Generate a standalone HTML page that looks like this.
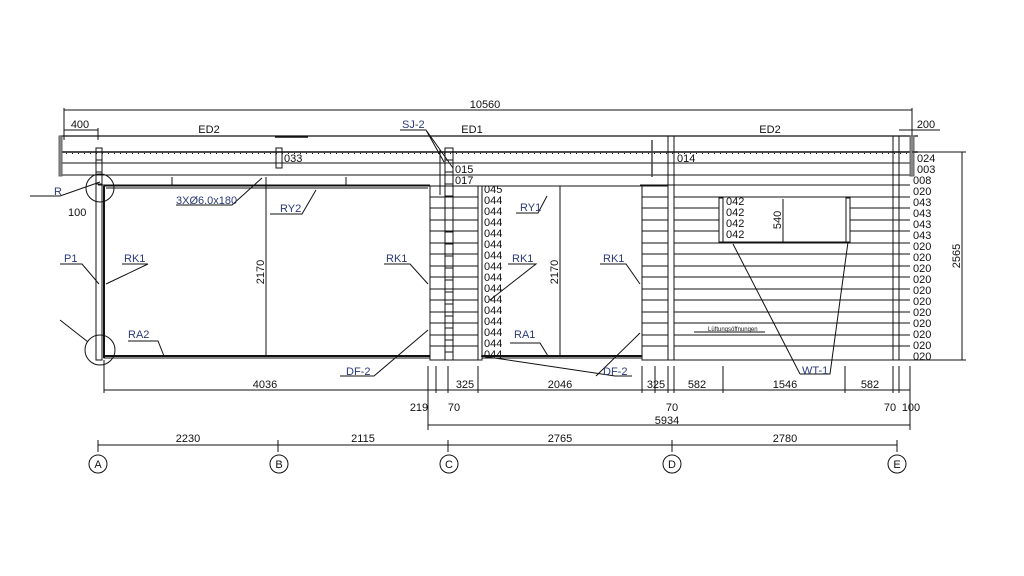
<!DOCTYPE html>
<html><head><meta charset="utf-8"><style>
html,body{margin:0;padding:0;background:#fff;}
svg{display:block;}
text{font-family:"Liberation Sans",sans-serif;font-size:11px;fill:#111;}
.b{fill:#2a3a7a;}
</style></head><body>
<svg width="1024" height="576" viewBox="0 0 1024 576" xmlns="http://www.w3.org/2000/svg">
<g stroke="#111" stroke-width="1" fill="none">
<line x1="64" y1="110" x2="912" y2="110"/>
<line x1="64" y1="108" x2="64" y2="140"/>
<line x1="912" y1="108" x2="912" y2="140"/>
<line x1="64" y1="130" x2="98" y2="130"/>
<line x1="98" y1="128" x2="98" y2="140"/>
<line x1="899" y1="130" x2="940" y2="130"/>
<line x1="60" y1="136" x2="918" y2="136" stroke-width="1.3"/>
<line x1="60" y1="152" x2="918" y2="152" stroke-width="1.6"/>
<line x1="60" y1="153.5" x2="918" y2="153.5" stroke-width="1" stroke-dasharray="1,5"/>
<line x1="60" y1="163" x2="910" y2="163"/>
<line x1="60" y1="175" x2="910" y2="175"/>
<line x1="98" y1="185" x2="430" y2="185"/>
<line x1="640" y1="185" x2="910" y2="185"/>
<rect x="59" y="136" width="3" height="40" fill="#888" stroke="#666"/>
<rect x="910" y="136" width="4" height="40" fill="#888" stroke="#666"/>
<line x1="275" y1="137" x2="308" y2="137" stroke-width="1.5"/>
<line x1="652" y1="140" x2="652" y2="177" stroke-width="1.5" stroke="#444"/>
<line x1="912" y1="152" x2="966" y2="152"/>
<line x1="910" y1="360" x2="966" y2="360"/>
<line x1="962" y1="152" x2="962" y2="360"/>
<rect x="96" y="148" width="6" height="212"/>
<line x1="104" y1="186" x2="104" y2="358" stroke-width="2"/>
<rect x="104" y="186" width="326" height="172"/>
<line x1="106" y1="188" x2="428" y2="188"/>
<line x1="104" y1="356" x2="430" y2="356" stroke-width="2"/>
<line x1="266" y1="186" x2="266" y2="356"/>
<line x1="172" y1="177" x2="172" y2="185"/><line x1="266" y1="177" x2="266" y2="185"/><line x1="346" y1="177" x2="346" y2="185"/>
<rect x="276" y="148" width="6" height="20"/>
<rect x="430" y="186" width="48" height="174"/>
<rect x="445" y="148" width="8" height="212"/>
<line x1="440" y1="150" x2="440" y2="195"/>
<rect x="478" y="186" width="4" height="174"/>
<rect x="482" y="186" width="160" height="172"/>
<line x1="560" y1="186" x2="560" y2="356"/>
<line x1="482" y1="356" x2="642" y2="356" stroke-width="2"/>
<rect x="642" y="186" width="26" height="174"/>
<rect x="668" y="136" width="6" height="224"/>
<line x1="674" y1="360" x2="910" y2="360"/>
<rect x="893" y="136" width="6" height="224"/>
<line x1="899" y1="186" x2="899" y2="360"/>
<rect x="719" y="198" width="4" height="44"/>
<rect x="846" y="198" width="4" height="44"/>
<line x1="723" y1="242" x2="846" y2="242"/>
<line x1="783" y1="199" x2="783" y2="242"/>
</g>
<g stroke="#111" stroke-width="1" fill="none">
<path d="M430 197H478M430 208H478M430 220H478M430 231H478M430 243H478M430 254H478M430 266H478M430 277H478M430 289H478M430 300H478M430 312H478M430 323H478M430 335H478M430 346H478
M642 197H668M642 208H668M642 220H668M642 231H668M642 243H668M642 254H668M642 266H668M642 277H668M642 289H668M642 300H668M642 312H668M642 323H668M642 335H668M642 346H668
M674 197H910M674 208H719M850 208H910M674 220H719M850 220H910M674 231H719M850 231H910M674 243H910M674 254H910M674 266H910M674 277H910M674 289H910M674 300H910M674 312H910M674 323H910M674 335H910M674 346H910
M445 160H453M445 172H453M445 184H453M445 196H453M445 208H453M445 220H453M445 232H453M445 244H453M445 256H453M445 268H453M445 280H453M445 292H453M445 304H453M445 316H453M445 328H453M445 340H453M445 352H453
M96 160H102M96 172H102M96 184H102"/>
<path d="M100 182 L60 196 L30 196"/>
<circle cx="100" cy="188" r="14"/>
<circle cx="100" cy="350" r="15"/>
<path d="M60 320 L88 342"/>
<path d="M176 205 L232 205 L262 178"/>
<path d="M270 214 L302 214 L316 190"/>
<path d="M60 264 L82 264 L99 284"/>
<path d="M122 264 L148 264 L106 284"/>
<path d="M384 264 L410 264 L428 284"/>
<path d="M128 341 L158 341 L164 356"/>
<path d="M340 376 L374 376 L428 330"/>
<path d="M400 130 L426 130 L444 162 M426 130 L453 168"/>
<path d="M516 213 L538 213 L547 196"/>
<path d="M508 264 L536 264 L490 300"/>
<path d="M600 264 L626 264 L640 284"/>
<path d="M510 343 L540 343 L548 356"/>
<path d="M481 356 L615 376 L632 376 M596 376 L640 333"/>
<path d="M800 374 L830 374 L848 242 M800 374 L733 244"/>
<path d="M694 332 L765 332"/>
<line x1="104" y1="390" x2="910" y2="390"/>
<path d="M104 360V393M428 366V430M436 366V393M448 366V393M478 366V393M642 366V393M655 366V393M668 366V393M674 366V393M723 366V393M845 366V393M893 366V393M899 366V393M910 366V430"/>
<line x1="428" y1="425" x2="910" y2="425"/>
<line x1="98" y1="445" x2="897" y2="445"/>
<path d="M98 440V452M278 440V452M448 440V452M672 440V452M897 440V452"/>
<circle cx="98" cy="464" r="9"/><circle cx="279" cy="464" r="9"/><circle cx="449" cy="464" r="9"/><circle cx="672" cy="464" r="9"/><circle cx="897" cy="464" r="9"/>
</g>
<text x="485" y="108" text-anchor="middle">10560</text>
<text x="80" y="128" text-anchor="middle">400</text>
<text x="926" y="128" text-anchor="middle">200</text>
<text x="209" y="133" text-anchor="middle">ED2</text>
<text x="472" y="133" text-anchor="middle">ED1</text>
<text x="770" y="133" text-anchor="middle">ED2</text>
<text x="402" y="128" class="b">SJ-2</text>
<text x="284" y="162">033</text>
<text x="455" y="173">015</text>
<text x="455" y="184">017</text>
<text x="677" y="162">014</text>
<text x="54" y="195" class="b">R</text>
<text x="68" y="216">100</text>
<text x="176" y="204" class="b">3XØ6.0x180</text>
<text x="280" y="212" class="b">RY2</text>
<text x="520" y="211" class="b">RY1</text>
<text x="64" y="262" class="b">P1</text>
<text x="124" y="262" class="b">RK1</text>
<text x="386" y="262" class="b">RK1</text>
<text x="512" y="262" class="b">RK1</text>
<text x="603" y="262" class="b">RK1</text>
<text x="128" y="338" class="b">RA2</text>
<text x="514" y="338" class="b">RA1</text>
<text x="346" y="375" class="b">DF-2</text>
<text x="603" y="375" class="b">DF-2</text>
<text x="802" y="374" class="b">WT-1</text>
<text x="708" y="331" style="font-size:6px">Lüftungsöffnungen</text>
<text transform="translate(264,272) rotate(-90)" text-anchor="middle">2170</text>
<text transform="translate(558,272) rotate(-90)" text-anchor="middle">2170</text>
<text transform="translate(781,220) rotate(-90)" text-anchor="middle">540</text>
<text transform="translate(960,256) rotate(-90)" text-anchor="middle">2565</text>
<g style="font-size:10.5px">
<text x="726" y="205">042</text><text x="726" y="216">042</text><text x="726" y="227">042</text><text x="726" y="238">042</text>
<text x="484" y="193">045</text>
<text x="484" y="204">044</text><text x="484" y="215">044</text><text x="484" y="226">044</text><text x="484" y="237">044</text><text x="484" y="248">044</text><text x="484" y="259">044</text><text x="484" y="270">044</text><text x="484" y="281">044</text><text x="484" y="292">044</text><text x="484" y="303">044</text><text x="484" y="314">044</text><text x="484" y="325">044</text><text x="484" y="336">044</text><text x="484" y="347">044</text><text x="484" y="358">044</text>
<text x="917" y="162">024</text><text x="917" y="173">003</text><text x="913" y="184">008</text><text x="913" y="195">020</text><text x="913" y="206">043</text><text x="913" y="217">043</text><text x="913" y="228">043</text><text x="913" y="239">043</text>
<text x="913" y="250">020</text><text x="913" y="261">020</text><text x="913" y="272">020</text><text x="913" y="283">020</text><text x="913" y="294">020</text><text x="913" y="305">020</text><text x="913" y="316">020</text><text x="913" y="327">020</text><text x="913" y="338">020</text><text x="913" y="349">020</text><text x="913" y="360">020</text>
</g>
<text x="265" y="388" text-anchor="middle">4036</text>
<text x="465" y="388" text-anchor="middle">325</text>
<text x="560" y="388" text-anchor="middle">2046</text>
<text x="656" y="388" text-anchor="middle">325</text>
<text x="697" y="388" text-anchor="middle">582</text>
<text x="785" y="388" text-anchor="middle">1546</text>
<text x="870" y="388" text-anchor="middle">582</text>
<text x="419" y="411" text-anchor="middle">219</text>
<text x="454" y="411" text-anchor="middle">70</text>
<text x="672" y="411" text-anchor="middle">70</text>
<text x="890" y="411" text-anchor="middle">70</text>
<text x="911" y="411" text-anchor="middle">100</text>
<text x="667" y="424" text-anchor="middle">5934</text>
<text x="188" y="442" text-anchor="middle">2230</text>
<text x="363" y="442" text-anchor="middle">2115</text>
<text x="560" y="442" text-anchor="middle">2765</text>
<text x="785" y="442" text-anchor="middle">2780</text>
<g text-anchor="middle" style="font-size:10px">
<text x="98" y="468">A</text><text x="279" y="468">B</text><text x="449" y="468">C</text><text x="672" y="468">D</text><text x="897" y="468">E</text>
</g>
</svg>
</body></html>
